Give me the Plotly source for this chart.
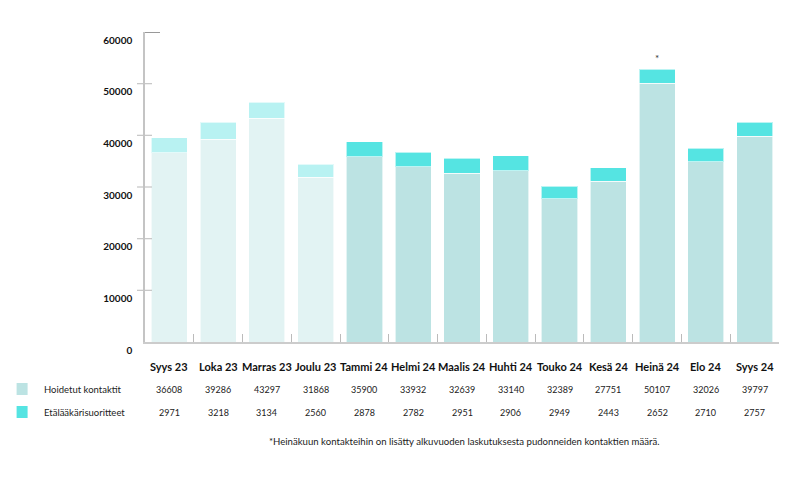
import plotly.graph_objects as go

categories = ["Syys 23", "Loka 23", "Marras 23", "Joulu 23", "Tammi 24", "Helmi 24",
              "Maalis 24", "Huhti 24", "Touko 24", "Kesä 24", "Heinä 24", "Elo 24", "Syys 24"]
# values printed in the table under the chart
table_hoidetut = [36608, 39286, 43297, 31868, 35900, 33932, 32639, 33140, 32389, 27751, 50107, 32026, 39797]
table_etalaakari = [2971, 3218, 3134, 2560, 2878, 2782, 2951, 2906, 2949, 2443, 2652, 2710, 2757]
# bar heights as drawn in the chart (Touko/Kesä/Elo differ from the table)
bar_hoidetut = [36608, 39286, 43297, 31868, 35900, 33932, 32639, 33140, 27751, 31160, 50107, 34840, 39797]
bar_etalaakari = [2971, 3218, 3134, 2560, 2878, 2782, 2951, 2906, 2443, 2575, 2652, 2650, 2757]
series_names = ["Hoidetut kontaktit", "Etälääkärisuoritteet"]
y_ticks = [0, 10000, 20000, 30000, 40000, 50000, 60000]
footnote = "*Heinäkuun kontakteihin on lisätty alkuvuoden laskutuksesta pudonneiden kontaktien määrä."
starred = "Heinä 24"

FONT = "Lato"
OFF = 8  # page body margin
W, H = 795 - 2 * OFF, 477 - 2 * OFF
# plot area in page pixels: x 144.5..779, y 32..342
ML = 144.5 - OFF
MT = 32 - OFF
PW = 779 - 144.5
PH = 342 - 32
MR = W - ML - PW
MB = H - MT - PH

is_old = [c.endswith("23") for c in categories]
col_bottom = ["#e2f3f3" if o else "#bce3e3" for o in is_old]
col_top = ["#b8f2f2" if o else "#55e4e2" for o in is_old]

fig = go.Figure()
fig.add_bar(x=categories, y=bar_hoidetut, name=series_names[0],
            marker=dict(color=col_bottom, line=dict(color="rgba(255,255,255,0.6)", width=1)))
fig.add_bar(x=categories, y=bar_etalaakari, name=series_names[1],
            marker=dict(color=col_top, line=dict(color="rgba(255,255,255,0.6)", width=1)))


def px_x(page_x):
    return (page_x - 144.5) / PW


def px_below(dy):
    return -dy / PH


shapes = []
# y tick marks crossing the axis
for v in y_ticks[1:-1]:
    shapes.append(dict(type="line", xref="paper", yref="y", x0=-8 / PW, x1=7 / PW, y0=v, y1=v,
                       line=dict(color="#c4c4c4", width=1.2)))
shapes.append(dict(type="line", xref="paper", yref="y", x0=0, x1=15 / PW, y0=y_ticks[-1], y1=y_ticks[-1],
                   line=dict(color="#777777", width=1.5)))

annotations = []
# category labels and table values
for i, c in enumerate(categories):
    annotations.append(dict(x=c, y=px_below(24), xref="x", yref="paper", text=f"<b>{c}</b>",
                            yanchor="middle", showarrow=False, font=dict(family=FONT, size=11, color="#111")))
    annotations.append(dict(x=c, y=px_below(47), xref="x", yref="paper", text=str(table_hoidetut[i]),
                            yanchor="middle", showarrow=False, font=dict(family=FONT, size=9, color="#222")))
    annotations.append(dict(x=c, y=px_below(70), xref="x", yref="paper", text=str(table_etalaakari[i]),
                            yanchor="middle", showarrow=False, font=dict(family=FONT, size=9, color="#222")))

# legend rows
legend_cols = ["#bce3e3", "#55e4e2"]
for k, (name, col) in enumerate(zip(series_names, legend_cols)):
    yc = 47 + 23 * k
    shapes.append(dict(type="rect", xref="paper", yref="paper",
                       x0=px_x(16), x1=px_x(27),
                       y0=px_below(yc + 6), y1=px_below(yc - 6),
                       fillcolor=col, line=dict(width=0)))
    annotations.append(dict(x=px_x(41), y=px_below(yc), xref="paper", yref="paper", text=name,
                            xanchor="left", yanchor="middle", showarrow=False,
                            font=dict(family=FONT, size=9.5, color="#222")))

# footnote
annotations.append(dict(x=px_x(267), y=px_below(99), xref="paper", yref="paper", text=footnote,
                        xanchor="left", yanchor="middle", showarrow=False,
                        font=dict(family=FONT, size=9.6, color="#222")))

# star
si = categories.index(starred)
annotations.append(dict(x=starred, y=bar_hoidetut[si] + bar_etalaakari[si], xref="x", yref="y", text="*",
                        yshift=11, showarrow=False, font=dict(family=FONT, size=10, color="#333")))

fig.update_layout(
    width=W, height=H, barmode="stack", bargap=0.26,
    margin=dict(l=ML, r=MR, t=MT, b=MB, autoexpand=False),
    plot_bgcolor="white", paper_bgcolor="white", showlegend=False,
    shapes=shapes, annotations=annotations,
    xaxis=dict(showline=True, linecolor="#cccccc", linewidth=1.5, ticks="inside", tickson="boundaries",
               ticklen=8, tickcolor="#bbbbbb", showticklabels=False, showgrid=False, fixedrange=True,
               automargin=False),
    yaxis=dict(range=[0, 60000], tickvals=y_ticks, tickformat="d", showline=True, linecolor="#c4c4c4",
               linewidth=1.5, ticks="", showgrid=False, zeroline=False, ticklabelshift=8,
               ticklabelstandoff=9, automargin=False,
               tickfont=dict(family=FONT, size=10, color="#111", weight="bold")),
)

fig.write_html("out.html")
